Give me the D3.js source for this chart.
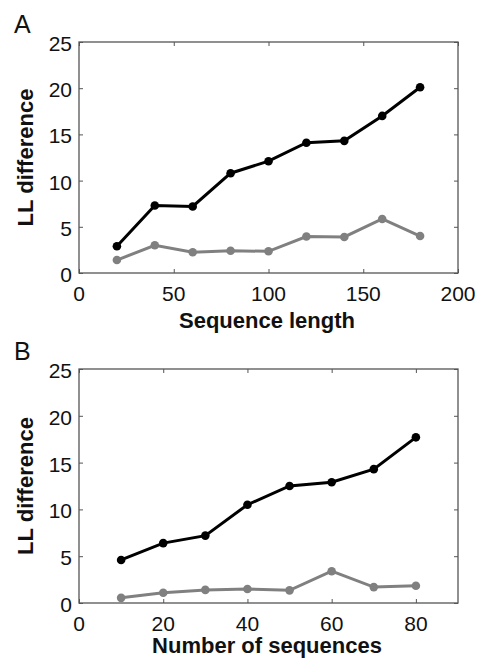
<!DOCTYPE html>
<html>
<head>
<meta charset="utf-8">
<script src="https://cdn.jsdelivr.net/npm/d3@7"></script>
<style>
  body { margin: 0; background: #fff; }
  text { font-family: "Liberation Sans", Arial, sans-serif; }
</style>
</head>
<body>
<div id="chart"></div>
<script>
// panel A
const lenX = [20, 40, 60, 80, 100, 120, 140, 160, 180];
const lenBlack = [2.9, 7.3, 7.2, 10.8, 12.1, 14.1, 14.3, 17.0, 20.1];
const lenGray = [1.4, 3.0, 2.25, 2.4, 2.35, 3.95, 3.9, 5.85, 4.0];
const lenTicks = [0, 50, 100, 150, 200];

// panel B
const numX = [10, 20, 30, 40, 50, 60, 70, 80];
const numBlack = [4.6, 6.4, 7.2, 10.5, 12.5, 12.9, 14.3, 17.7];
const numGray = [0.55, 1.1, 1.4, 1.5, 1.35, 3.4, 1.7, 1.85];
const numTicks = [0, 20, 40, 60, 80];

const yTicks = [0, 5, 10, 15, 20, 25];

const width = 478, height = 661;

const svg = d3.select('#chart')
  .append('svg')
  .attr('width', width)
  .attr('height', height);

function panel(opt){
  const g = svg.append('g');
  const x = d3.scaleLinear().domain(opt.xDomain).range([79, 458]);
  const y = d3.scaleLinear().domain([0, 25]).range([opt.bottom, opt.top]);

  // frame
  g.append('rect')
    .attr('x', 79).attr('y', opt.top)
    .attr('width', 379).attr('height', opt.bottom - opt.top)
    .attr('fill', 'none').attr('stroke', '#555').attr('stroke-width', 1.3);

  // inward ticks, all four sides
  g.append('g').attr('transform', `translate(0,${opt.bottom})`)
    .call(d3.axisTop(x).tickValues(opt.xTicks).tickSize(4).tickFormat(''));
  g.append('g').attr('transform', `translate(0,${opt.top})`)
    .call(d3.axisBottom(x).tickValues(opt.xTicks).tickSize(4).tickFormat(''));
  g.append('g').attr('transform', 'translate(79,0)')
    .call(d3.axisRight(y).tickValues(yTicks).tickSize(4).tickFormat(''));
  g.append('g').attr('transform', 'translate(458,0)')
    .call(d3.axisLeft(y).tickValues(yTicks).tickSize(4).tickFormat(''));
  g.selectAll('.domain').remove();
  g.selectAll('.tick line').attr('stroke', '#555');

  // tick labels
  g.selectAll('.xl').data(opt.xTicks).join('text')
    .attr('x', d => x(d)).attr('y', opt.bottom + 28)
    .attr('text-anchor', 'middle').attr('font-size', 21).attr('fill', '#111')
    .text(d => d);
  g.selectAll('.yl').data(yTicks).join('text')
    .attr('x', 72).attr('y', d => y(d) + 9)
    .attr('text-anchor', 'end').attr('font-size', 21).attr('fill', '#111')
    .text(d => d);

  // labels
  g.append('text')
    .attr('x', 267).attr('y', opt.labelY)
    .attr('text-anchor', 'middle').attr('font-size', 22).attr('font-weight', 'bold')
    .attr('fill', '#111').text(opt.xLabel);
  g.append('text')
    .attr('transform', `translate(33,${(opt.top + opt.bottom) / 2}) rotate(-90)`)
    .attr('text-anchor', 'middle').attr('font-size', 22).attr('font-weight', 'bold')
    .attr('fill', '#111').text('LL difference');
  g.append('text')
    .attr('x', 14).attr('y', opt.top - 9)
    .attr('font-size', 25).attr('fill', '#111').text(opt.letter);

  const line = d3.line().x(d => x(d[0])).y(d => y(d[1]));
  [[opt.gray, '#808080'], [opt.black, '#000']].forEach(([vals, col]) => {
    const pts = opt.xs.map((v, i) => [v, vals[i]]);
    g.append('path').datum(pts)
      .attr('d', line).attr('fill', 'none')
      .attr('stroke', col).attr('stroke-width', 3);
    g.selectAll(null).data(pts).join('circle')
      .attr('cx', d => x(d[0])).attr('cy', d => y(d[1]))
      .attr('r', 4.3).attr('fill', col);
  });
}

panel({letter: 'A', top: 42, bottom: 273, labelY: 328, xDomain: [0, 200], xTicks: lenTicks,
  xs: lenX, black: lenBlack, gray: lenGray, xLabel: 'Sequence length'});
panel({letter: 'B', top: 369, bottom: 603, labelY: 653, xDomain: [0, 90], xTicks: numTicks,
  xs: numX, black: numBlack, gray: numGray, xLabel: 'Number of sequences'});
</script>
</body>
</html>
